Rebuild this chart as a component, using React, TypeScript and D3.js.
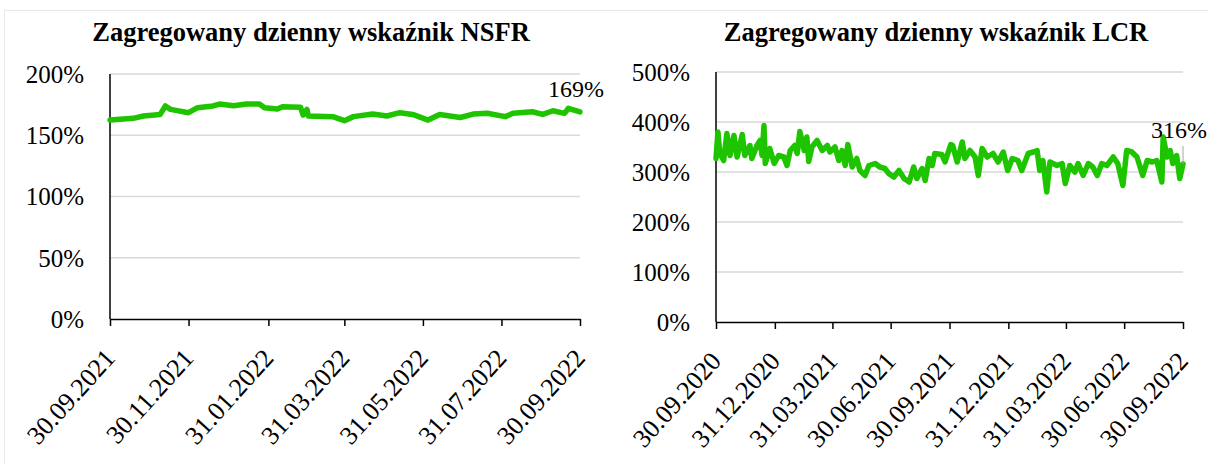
import { useEffect, useRef } from "react";
import * as d3 from "d3";

// NSFR – daily aggregated ratio, %
const nsfrDates = [
  "2021-09-30", "2021-10-18", "2021-10-26", "2021-11-08", "2021-11-12", "2021-11-16",
  "2021-11-30", "2021-12-07", "2021-12-19", "2021-12-24", "2022-01-04", "2022-01-14",
  "2022-01-24", "2022-01-28", "2022-02-07", "2022-02-11", "2022-02-25", "2022-02-27",
  "2022-03-02", "2022-03-03", "2022-03-22", "2022-03-31", "2022-04-07", "2022-04-22",
  "2022-05-03", "2022-05-13", "2022-05-23", "2022-06-04", "2022-06-13", "2022-06-29",
  "2022-07-09", "2022-07-20", "2022-08-03", "2022-08-09", "2022-08-24", "2022-09-01",
  "2022-09-09", "2022-09-18", "2022-09-21", "2022-09-30",
];
const nsfrValues = [
  162.4, 163.8, 165.7, 167, 173.9, 171.1,
  168.4, 172.5, 173.9, 175.5, 174.1, 175.5,
  175.5, 172.5, 171.4, 173.3, 172.8, 166.5,
  171.1, 165.7, 165.2, 161.9, 165.2, 167.3,
  165.7, 168.4, 167, 162.4, 167, 164.5,
  167.3, 167.9, 165.2, 167.9, 169.2, 167,
  170, 167.9, 172, 169,
];
const nsfrXTicks = [
  "30.09.2021", "30.11.2021", "31.01.2022", "31.03.2022",
  "31.05.2022", "31.07.2022", "30.09.2022",
];
const nsfrYTicks = [0, 50, 100, 150, 200];

// LCR – daily aggregated ratio, %
const lcrDates = [
  "2020-09-30", "2020-10-03", "2020-10-06", "2020-10-12", "2020-10-17", "2020-10-22",
  "2020-10-28", "2020-11-02", "2020-11-10", "2020-11-14", "2020-11-22", "2020-11-25",
  "2020-12-03", "2020-12-08", "2020-12-11", "2020-12-14", "2020-12-16", "2020-12-23",
  "2020-12-30", "2021-01-06", "2021-01-14", "2021-01-19", "2021-01-24", "2021-01-31",
  "2021-02-04", "2021-02-08", "2021-02-15", "2021-02-19", "2021-02-22", "2021-02-27",
  "2021-03-07", "2021-03-15", "2021-03-23", "2021-03-27", "2021-04-04", "2021-04-10",
  "2021-04-15", "2021-04-20", "2021-04-24", "2021-05-01", "2021-05-08", "2021-05-13",
  "2021-05-21", "2021-05-27", "2021-06-06", "2021-06-13", "2021-06-21", "2021-06-27",
  "2021-07-05", "2021-07-13", "2021-07-21", "2021-07-29", "2021-08-05", "2021-08-10",
  "2021-08-18", "2021-08-23", "2021-08-29", "2021-09-03", "2021-09-07", "2021-09-18",
  "2021-09-23", "2021-10-02", "2021-10-05", "2021-10-12", "2021-10-20", "2021-10-24",
  "2021-11-01", "2021-11-09", "2021-11-14", "2021-11-20", "2021-11-28", "2021-12-07",
  "2021-12-15", "2021-12-23", "2021-12-30", "2022-01-06", "2022-01-15", "2022-01-21",
  "2022-01-31", "2022-02-08", "2022-02-14", "2022-02-18", "2022-02-23", "2022-03-01",
  "2022-03-06", "2022-03-17", "2022-03-25", "2022-03-30", "2022-04-06", "2022-04-14",
  "2022-04-19", "2022-04-27", "2022-05-05", "2022-05-12", "2022-05-19", "2022-05-26",
  "2022-06-03", "2022-06-13", "2022-06-20", "2022-06-28", "2022-07-04", "2022-07-12",
  "2022-07-20", "2022-07-25", "2022-07-29", "2022-08-05", "2022-08-13", "2022-08-20",
  "2022-08-28", "2022-08-30", "2022-09-05", "2022-09-10", "2022-09-14", "2022-09-20",
  "2022-09-25", "2022-09-30",
];
const lcrValues = [
  327, 380, 337, 323, 377, 333,
  373, 330, 375, 333, 353, 327,
  353, 363, 333, 393, 317, 347,
  317, 333, 330, 313, 343, 353,
  337, 381, 343, 370, 321, 350,
  363, 343, 353, 340, 350, 323,
  343, 313, 355, 310, 327, 303,
  293, 313, 317, 310, 307, 297,
  290, 303, 287, 280, 310, 287,
  307, 283, 327, 313, 337, 335,
  320, 355, 353, 320, 360, 327,
  343, 330, 293, 347, 330, 337,
  320, 340, 303, 327, 323, 303,
  337, 340, 343, 303, 323, 260,
  320, 313, 317, 277, 313, 300,
  317, 293, 317, 310, 293, 317,
  313, 330, 317, 273, 343, 340,
  330, 310, 293, 323, 320, 323,
  280, 370, 330, 343, 317, 333,
  287, 316,
];
const lcrXTicks = [
  "30.09.2020", "31.12.2020", "31.03.2021", "30.06.2021", "30.09.2021",
  "31.12.2021", "31.03.2022", "30.06.2022", "30.09.2022",
];
const lcrYTicks = [0, 100, 200, 300, 400, 500];

const FONT = "'Liberation Serif', 'Times New Roman', serif";
const GREEN = "#1fc400";

type Panel = {
  title: string;
  titleX: number;
  dates: string[];
  values: number[];
  xTicks: string[];
  yTicks: number[];
  left: number;
  right: number;
  top: number;
  bottom: number;
  labelX: number;
  labelDy: number;
  leader: boolean;
};

const parseDay = d3.timeParse("%Y-%m-%d");
const parseTick = d3.timeParse("%d.%m.%Y");
const formatTick = d3.timeFormat("%d.%m.%Y");

const drawPanel = (
  svg: d3.Selection<SVGSVGElement, unknown, null, undefined>,
  p: Panel,
) => {
  const g = svg.append("g");
  const points = p.dates.map((d, i) => ({ date: parseDay(d) as Date, value: p.values[i] }));

  const xScale = d3
    .scaleTime()
    .domain([points[0].date, points[points.length - 1].date])
    .range([p.left, p.right]);
  const yScale = d3
    .scaleLinear()
    .domain([0, p.yTicks[p.yTicks.length - 1]])
    .range([p.bottom, p.top]);

  g.append("text")
    .attr("x", p.titleX)
    .attr("y", 41)
    .attr("text-anchor", "middle")
    .attr("font-family", FONT)
    .attr("font-size", "26.5px")
    .attr("font-weight", "700")
    .text(p.title);

  // gridlines
  g.append("g")
    .selectAll("line")
    .data(p.yTicks.filter((v) => v > 0))
    .join("line")
    .attr("x1", p.left)
    .attr("x2", p.right)
    .attr("y1", (d) => yScale(d))
    .attr("y2", (d) => yScale(d))
    .attr("stroke", "#d9d9d9")
    .attr("stroke-width", 1.5);

  // y labels
  g.append("g")
    .selectAll("text")
    .data(p.yTicks)
    .join("text")
    .attr("x", p.left - 26)
    .attr("y", (d) => yScale(d))
    .attr("dy", "0.35em")
    .attr("text-anchor", "end")
    .attr("font-family", FONT)
    .attr("font-size", "25px")
    .text((d) => `${d}%`);

  g.append("line")
    .attr("x1", p.left)
    .attr("x2", p.left)
    .attr("y1", p.top)
    .attr("y2", p.bottom)
    .attr("stroke", "#000")
    .attr("stroke-width", 1.5);

  const xAxis = d3
    .axisBottom(xScale)
    .tickValues(p.xTicks.map((t) => parseTick(t) as Date))
    .tickFormat((d) => formatTick(d as Date))
    .tickSize(7)
    .tickSizeOuter(0);
  const xAxisGroup = g
    .append("g")
    .attr("transform", `translate(0,${p.bottom})`)
    .call(xAxis);
  xAxisGroup.select(".domain").attr("stroke", "#000").attr("stroke-width", 1.5);
  xAxisGroup.selectAll(".tick line").attr("stroke", "#000").attr("stroke-width", 1.5);
  xAxisGroup
    .selectAll("text")
    .attr("y", 0)
    .attr("dy", 0)
    .attr("fill", "#000")
    .attr("font-family", FONT)
    .attr("font-size", "26px")
    .style("text-anchor", "end")
    .attr("transform", "translate(6,40) rotate(-48)");

  const line = d3
    .line<{ date: Date; value: number }>()
    .x((d) => xScale(d.date))
    .y((d) => yScale(d.value));
  g.append("path")
    .datum(points)
    .attr("d", line)
    .attr("fill", "none")
    .attr("stroke", GREEN)
    .attr("stroke-width", 5.5)
    .attr("stroke-linejoin", "round")
    .attr("stroke-linecap", "round");

  const last = points[points.length - 1];
  const lx = xScale(last.date);
  const ly = yScale(last.value);
  if (p.leader) {
    g.append("line")
      .attr("x1", lx)
      .attr("x2", lx)
      .attr("y1", ly + p.labelDy + 8)
      .attr("y2", ly)
      .attr("stroke", "#a6a6a6")
      .attr("stroke-width", 1);
  }
  g.append("text")
    .attr("x", p.labelX)
    .attr("y", ly + p.labelDy)
    .attr("text-anchor", "end")
    .attr("font-family", FONT)
    .attr("font-size", "24px")
    .text(`${Math.round(last.value)}%`);
};

const App = () => {
  const svgRef = useRef<SVGSVGElement | null>(null);

  useEffect(() => {
    if (!svgRef.current) {
      return;
    }
    const svg = d3.select(svgRef.current);
    svg.selectAll("*").remove();

    svg.append("rect").attr("width", 1208).attr("height", 464).attr("fill", "#fff");
    svg
      .append("path")
      .attr("d", "M4.5,464V10.5H1208")
      .attr("fill", "none")
      .attr("stroke", "#e8e8e8")
      .attr("stroke-width", 1);

    drawPanel(svg, {
      title: "Zagregowany dzienny wskaźnik NSFR",
      titleX: 311,
      dates: nsfrDates,
      values: nsfrValues,
      xTicks: nsfrXTicks,
      yTicks: nsfrYTicks,
      left: 110,
      right: 580,
      top: 74,
      bottom: 319,
      labelX: 604,
      labelDy: -15,
      leader: false,
    });
    drawPanel(svg, {
      title: "Zagregowany dzienny wskaźnik LCR",
      titleX: 936,
      dates: lcrDates,
      values: lcrValues,
      xTicks: lcrXTicks,
      yTicks: lcrYTicks,
      left: 716,
      right: 1183,
      top: 72,
      bottom: 322,
      labelX: 1207,
      labelDy: -26,
      leader: true,
    });
  }, []);

  return (
    <div style={{ position: "absolute", left: 0, top: 0 }}>
      <svg ref={svgRef} width={1208} height={464} style={{ display: "block" }} />
    </div>
  );
};

export default App;
